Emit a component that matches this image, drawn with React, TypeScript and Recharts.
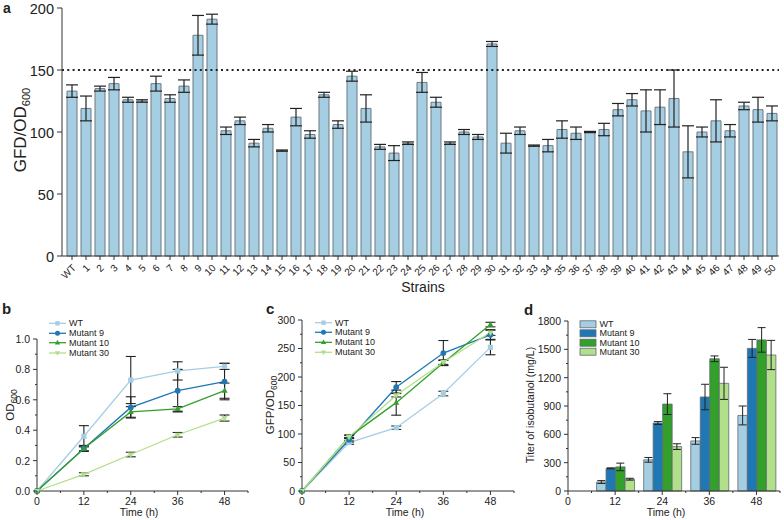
import React from 'react';
import { BarChart, Bar, XAxis, YAxis, ErrorBar, ReferenceLine, LineChart, Line } from 'recharts';

const FONT = '"Liberation Sans", Arial, Helvetica, sans-serif';
const INK = '#222';

// panel a: GFP/OD600 of each strain
const strains = ['WT', '1', '2', '3', '4', '5', '6', '7', '8', '9', '10', '11', '12', '13', '14', '15', '16', '17', '18', '19', '20',
  '21', '22', '23', '24', '25', '26', '27', '28', '29', '30', '31', '32', '33', '34', '35', '36', '37', '38', '39', '40',
  '41', '42', '43', '44', '45', '46', '47', '48', '49', '50'];
const gfdMean = [133, 119, 135, 139, 126, 125, 139, 127, 137, 178, 191, 101, 109, 91, 103, 85, 112, 98, 130, 106, 145,
  119, 88, 83, 91, 140, 124, 91, 100, 96, 171, 91, 101, 89, 89, 102, 99, 100, 102, 118, 126,
  117, 120, 127, 84, 100, 109, 101, 121, 118, 115];
const gfdErr = [5, 10, 2, 5, 2, 1, 6, 3, 5, 16, 4, 3, 3, 3, 3, 0.5, 7, 3, 2, 3, 4,
  11, 2, 6, 1, 8, 4, 1, 2, 2, 2, 8, 3, 0.5, 5, 7, 5, 0.5, 5, 5, 5,
  17, 14, 23, 21, 4, 17, 5, 3, 10, 6];
const aTicks = [0, 50, 100, 150, 200];
const threshold = 150;

// shared series
const seriesNames = ['WT', 'Mutant 9', 'Mutant 10', 'Mutant 30'];
const seriesKeys = ['wt', 'm9', 'm10', 'm30'];
const seriesColors = ['#a6cee3', '#1f78b4', '#33a02c', '#b2df8a'];
const seriesShapes = ['square', 'circle', 'up', 'down'];

// panel b: OD600 over time
const hours = [0, 12, 24, 36, 48];
const odWT = [0, 0.36, 0.73, 0.79, 0.82];
const odM9 = [0, 0.28, 0.55, 0.66, 0.72];
const odM10 = [0, 0.28, 0.52, 0.54, 0.66];
const odM30 = [0, 0.11, 0.24, 0.37, 0.48];
const odWTErr = [0, 0.07, 0.155, 0.06, 0.02];
const odM9Err = [0, 0.02, 0.07, 0.14, 0.12];
const odM10Err = [0, 0.015, 0.035, 0.015, 0.05];
const odM30Err = [0, 0.01, 0.015, 0.015, 0.02];

// panel c: GFP/OD600 over time
const gfpWT = [0, 85, 111, 171, 252];
const gfpM9 = [0, 90, 182, 242, 274];
const gfpM10 = [0, 95, 155, 225, 292];
const gfpM30 = [0, 95, 168, 226, 278];
const gfpWTErr = [0, 3, 3, 4, 13];
const gfpM9Err = [0, 4, 10, 22, 8];
const gfpM10Err = [0, 3, 22, 4, 4];
const gfpM30Err = [0, 3, 3, 4, 5];

// panel d: isobutanol titer
const titerHours = [12, 24, 36, 48];
const titerWT = [95, 330, 530, 800];
const titerM9 = [240, 720, 995, 1510];
const titerM10 = [255, 920, 1400, 1600];
const titerM30 = [125, 470, 1140, 1440];
const titerWTErr = [15, 25, 35, 100];
const titerM9Err = [5, 15, 135, 95];
const titerM10Err = [40, 110, 30, 130];
const titerM30Err = [10, 30, 170, 155];

const timeTicks = [0, 6, 12, 18, 24, 30, 36, 42, 48, 54];
const odTicks = [0, 0.1, 0.2, 0.3, 0.4, 0.5, 0.6, 0.7, 0.8, 0.9, 1.0];
const gfpTicks = [0, 25, 50, 75, 100, 125, 150, 175, 200, 225, 250, 275, 300];
const titerTicks = [0, 150, 300, 450, 600, 750, 900, 1050, 1200, 1350, 1500, 1650, 1800];

const strainData = strains.map((s, i) => ({ s, v: gfdMean[i], e: gfdErr[i] }));

const odSets = [[odWT, odWTErr], [odM9, odM9Err], [odM10, odM10Err], [odM30, odM30Err]];
const gfpSets = [[gfpWT, gfpWTErr], [gfpM9, gfpM9Err], [gfpM10, gfpM10Err], [gfpM30, gfpM30Err]];
const titerSets = [[titerWT, titerWTErr], [titerM9, titerM9Err], [titerM10, titerM10Err], [titerM30, titerM30Err]];

function rows(xs: number[], sets: number[][][]) {
  return xs.map((h, i) => {
    const r: any = { h };
    sets.forEach(([v, e], k) => {
      r[seriesKeys[k]] = v[i];
      r[seriesKeys[k] + 'Err'] = e[i];
    });
    return r;
  });
}

const odData = rows(hours, odSets);
const gfpData = rows(hours, gfpSets);
const titerData = rows(titerHours, titerSets);

function Marker({ shape, cx, cy, color, r = 2.6 }: any) {
  if (cx == null || cy == null) return null;
  if (shape === 'square') return <rect x={cx - r} y={cy - r} width={2 * r} height={2 * r} fill={color} />;
  if (shape === 'circle') return <circle cx={cx} cy={cy} r={r + 0.3} fill={color} />;
  if (shape === 'up')
    return <polygon points={`${cx},${cy - r * 1.3} ${cx - r * 1.2},${cy + r * 0.8} ${cx + r * 1.2},${cy + r * 0.8}`} fill={color} />;
  return <polygon points={`${cx},${cy + r * 1.3} ${cx - r * 1.2},${cy - r * 0.8} ${cx + r * 1.2},${cy - r * 0.8}`} fill={color} />;
}

function isMajor(v: number, step: number) {
  return Math.abs(v / step - Math.round(v / step)) < 1e-6;
}

function YTick(props: any) {
  const { x, y, payload, step, fs, fmt, len = 4, minor = 2 } = props;
  const major = isMajor(payload.value, step);
  return (
    <g>
      <line x1={x - (major ? len : minor)} x2={x} y1={y} y2={y} stroke="#333" />
      {major && (
        <text x={x - len - 3} y={y} dy="0.38em" textAnchor="end" fontSize={fs} fontFamily={FONT} fill={INK}>
          {fmt ? fmt(payload.value) : payload.value}
        </text>
      )}
    </g>
  );
}

function XTick(props: any) {
  const { x, y, payload, step, fs, len = 4, minor = 2 } = props;
  const major = isMajor(payload.value, step);
  return (
    <g>
      <line x1={x} x2={x} y1={y} y2={y + (major ? len : minor)} stroke="#333" />
      {major && (
        <text x={x} y={y + len + 2} dy="0.75em" textAnchor="middle" fontSize={fs} fontFamily={FONT} fill={INK}>
          {payload.value}
        </text>
      )}
    </g>
  );
}

function StrainTick(props: any) {
  const { x, y, payload } = props;
  return (
    <g>
      <line x1={x} x2={x} y1={y} y2={y + 4} stroke="#333" />
      <text transform={`translate(${x + 2},${y + 10}) rotate(-45)`} dy="0.35em" textAnchor="end" fontSize={10} fontFamily={FONT} fill={INK}>
        {payload.value}
      </text>
    </g>
  );
}

function StrainPanel() {
  return (
    <BarChart width={784} height={300} data={strainData} margin={{ top: 8, right: 5, left: 0, bottom: 0 }} barSize={10}>
      <XAxis dataKey="s" type="category" interval={0} height={44} padding={{ left: 3, right: 0 }}
        stroke="#333" tickLine={false} tickSize={0} tickMargin={0} tick={<StrainTick />} />
      <YAxis domain={[0, 200]} ticks={aTicks} width={62} stroke="#333" interval={0} tickLine={false} tickSize={0} tickMargin={0}
        tick={(p: any) => <YTick {...p} step={50} fs={14.5} len={5} />} />
      <ReferenceLine y={threshold} stroke={INK} strokeWidth={2} strokeDasharray="2 3.3" />
      <Bar dataKey="v" fill="#a6cee3" stroke="#6b7b84" strokeWidth={1} isAnimationActive={false}>
        <ErrorBar dataKey="e" width={6} stroke={INK} strokeWidth={1.2} direction="y" />
      </Bar>
    </BarChart>
  );
}

function TimeLines({ data, ticks, yMax, step, fmt, margin, yWidth }: any) {
  return (
    <LineChart width={264} height={230} data={data} margin={margin}>
      <XAxis dataKey="h" type="number" domain={[0, 54]} ticks={timeTicks} interval={0} height={29} stroke="#333"
        tickLine={false} tickSize={0} tickMargin={0} tick={(p: any) => <XTick {...p} step={12} fs={10.5} />} />
      <YAxis domain={[0, yMax]} ticks={ticks} interval={0} width={yWidth} stroke="#333" tickLine={false} tickSize={0} tickMargin={0}
        tick={(p: any) => <YTick {...p} step={step} fs={10.5} fmt={fmt} />} />
      {seriesKeys.map((k, i) => (
        <Line key={k} dataKey={k} stroke={seriesColors[i]} strokeWidth={1.3} isAnimationActive={false} activeDot={false}
          dot={(p: any) => <Marker key={`${k}-${p.index}`} shape={seriesShapes[i]} cx={p.cx} cy={p.cy} color={seriesColors[i]} />}>
          <ErrorBar dataKey={k + 'Err'} width={5} stroke={INK} strokeWidth={1.1} direction="y" />
        </Line>
      ))}
    </LineChart>
  );
}

function TiterPanel() {
  return (
    <BarChart width={264} height={230} data={titerData} margin={{ top: 31, right: 4, left: 0, bottom: 0 }} barSize={9.5} barGap={0}>
      <XAxis dataKey="h" type="number" domain={[0, 54]} ticks={timeTicks} interval={0} height={29} stroke="#333"
        tickLine={false} tickSize={0} tickMargin={0} tick={(p: any) => <XTick {...p} step={12} fs={10.5} />} />
      <YAxis domain={[0, 1800]} ticks={titerTicks} interval={0} width={48} stroke="#333" tickLine={false} tickSize={0} tickMargin={0}
        tick={(p: any) => <YTick {...p} step={300} fs={10.5} />} />
      {seriesKeys.map((k, i) => (
        <Bar key={k} dataKey={k} fill={seriesColors[i]} stroke="#5f6a70" strokeWidth={0.8} isAnimationActive={false}>
          <ErrorBar dataKey={k + 'Err'} width={4} stroke={INK} strokeWidth={1} direction="y" />
        </Bar>
      ))}
    </BarChart>
  );
}

function LineLegend({ x, ys }: any) {
  return (
    <g>
      {seriesNames.map((n, i) => (
        <g key={n}>
          <line x1={x} x2={x + 17} y1={ys[i]} y2={ys[i]} stroke={seriesColors[i]} strokeWidth={1.3} />
          <Marker shape={seriesShapes[i]} cx={x + 8.5} cy={ys[i]} color={seriesColors[i]} r={2.2} />
          <text x={x + 20} y={ys[i]} dy="0.35em" fontSize={9} fontFamily={FONT} fill={INK}>{n}</text>
        </g>
      ))}
    </g>
  );
}

function BoxLegend({ x, ys }: any) {
  return (
    <g>
      {seriesNames.map((n, i) => (
        <g key={n}>
          <rect x={x} y={ys[i] - 3.5} width={16} height={7} fill={seriesColors[i]} stroke="#5f6a70" strokeWidth={0.8} />
          <text x={x + 19.5} y={ys[i]} dy="0.35em" fontSize={9} fontFamily={FONT} fill={INK}>{n}</text>
        </g>
      ))}
    </g>
  );
}

function Overlay() {
  const t = { fontFamily: FONT, fill: INK };
  return (
    <svg width={784} height={520} style={{ position: 'absolute', left: 0, top: 0, pointerEvents: 'none' }}>
      <text x={3} y={13} fontSize={14} fontWeight="bold" {...t}>a</text>
      <text transform="translate(26,130) rotate(-90)" textAnchor="middle" fontSize={17} {...t}>
        GFD/OD<tspan fontSize={11} dy={4}>600</tspan>
      </text>
      <text x={423} y={292} textAnchor="middle" fontSize={14} {...t}>Strains</text>

      <text x={2} y={314} fontSize={15} fontWeight="bold" {...t}>b</text>
      <text transform="translate(14,405) rotate(-90)" textAnchor="middle" fontSize={11.5} {...t}>
        OD<tspan fontSize={8.5} dy={3}>600</tspan>
      </text>
      <text x={139} y={516} textAnchor="middle" fontSize={10.5} {...t}>Time (h)</text>
      <LineLegend x={49} ys={[323.3, 333.3, 342.7, 353]} />

      <text x={266} y={314} fontSize={15} fontWeight="bold" {...t}>c</text>
      <text transform="translate(274,405) rotate(-90)" textAnchor="middle" fontSize={11.5} {...t}>
        GFP/OD<tspan fontSize={8.5} dy={3}>600</tspan>
      </text>
      <text x={405} y={516} textAnchor="middle" fontSize={10.5} {...t}>Time (h)</text>
      <LineLegend x={315} ys={[322.7, 332.3, 342.3, 352.3]} />

      <text x={524} y={315} fontSize={15} fontWeight="bold" {...t}>d</text>
      <text transform="translate(534,405) rotate(-90)" textAnchor="middle" fontSize={10.5} {...t}>
        Titer of isobutanol (mg/L)
      </text>
      <text x={666} y={516} textAnchor="middle" fontSize={10.5} {...t}>Time (h)</text>
      <BoxLegend x={580} ys={[324.3, 333.3, 342.7, 351.7]} />
    </svg>
  );
}

export default function App() {
  return (
    <div style={{ position: 'absolute', left: 0, top: 0, width: 784, height: 520, background: '#fff', fontFamily: FONT }}>
      <div style={{ position: 'absolute', left: 0, top: 0 }}>
        <StrainPanel />
      </div>
      <div style={{ position: 'absolute', left: 0, top: 290 }}>
        <TimeLines data={odData} ticks={odTicks} yMax={1} step={0.2} fmt={(v: number) => v.toFixed(1)}
          margin={{ top: 49, right: 16, left: 0, bottom: 0 }} yWidth={37} />
      </div>
      <div style={{ position: 'absolute', left: 260, top: 290 }}>
        <TimeLines data={gfpData} ticks={gfpTicks} yMax={300} step={50}
          margin={{ top: 30, right: 10, left: 0, bottom: 0 }} yWidth={42} />
      </div>
      <div style={{ position: 'absolute', left: 520, top: 290 }}>
        <TiterPanel />
      </div>
      <Overlay />
    </div>
  );
}
